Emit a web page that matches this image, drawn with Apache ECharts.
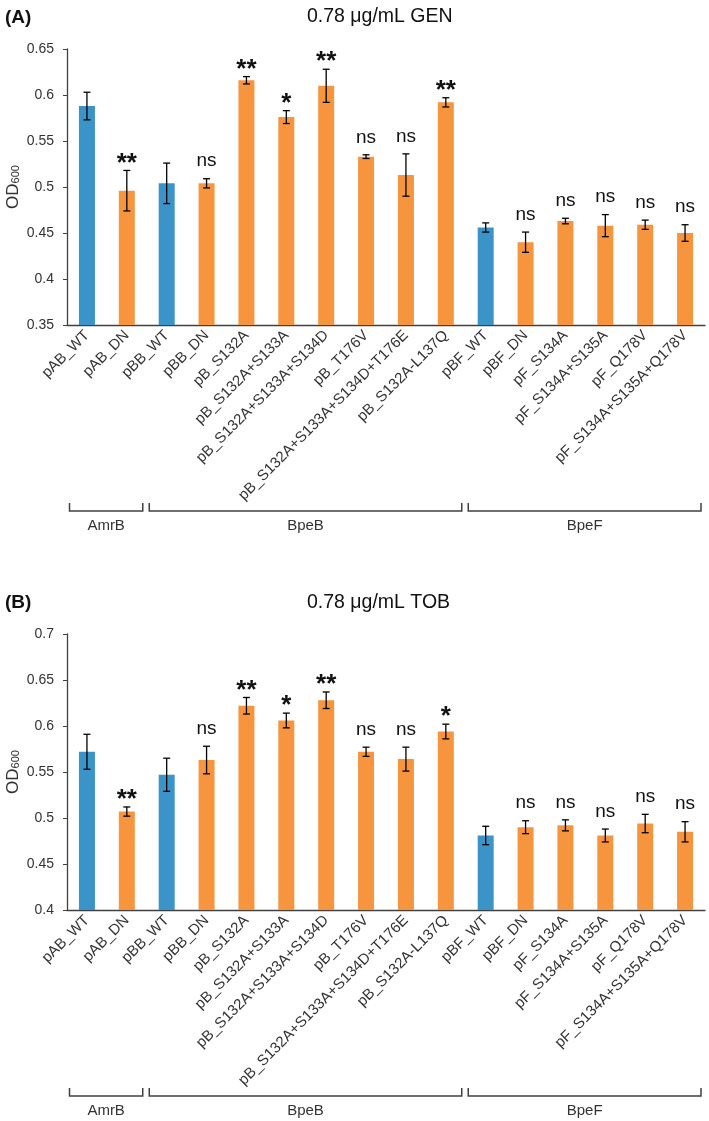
<!DOCTYPE html>
<html lang="en">
<head>
  <meta charset="UTF-8">
  <title>OD600 GEN / TOB</title>
  <script src="https://cdn.jsdelivr.net/npm/echarts@6/dist/echarts.min.js"></script>
  <style>
    html, body { margin: 0; padding: 0; background: #fff; }
  </style>
</head>
<body>
<div id="main" style="width:709px;height:1121px;"></div>
<script>
  // strains on the x axis
  var categories = ['pAB_WT', 'pAB_DN', 'pBB_WT', 'pBB_DN', 'pB_S132A', 'pB_S132A+S133A',
    'pB_S132A+S133A+S134D', 'pB_T176V', 'pB_S132A+S133A+S134D+T176E', 'pB_S132A-L137Q',
    'pBF_WT', 'pBF_DN', 'pF_S134A', 'pF_S134A+S135A', 'pF_Q178V', 'pF_S134A+S135A+Q178V'];

  // (A) gentamicin
  var meanA = [0.588, 0.496, 0.504, 0.504, 0.616, 0.576, 0.610, 0.533, 0.513, 0.592, 0.456, 0.440, 0.463, 0.458, 0.459, 0.450];
  var errA  = [0.015, 0.022, 0.022, 0.005, 0.004, 0.007, 0.018, 0.002, 0.023, 0.005, 0.005, 0.011, 0.003, 0.012, 0.005, 0.009];
  var sigA  = ['', '**', '', 'ns', '**', '*', '**', 'ns', 'ns', '**', '', 'ns', 'ns', 'ns', 'ns', 'ns'];

  // (B) tobramycin
  var meanB = [0.572, 0.507, 0.547, 0.563, 0.622, 0.606, 0.628, 0.572, 0.564, 0.594, 0.481, 0.490, 0.492, 0.481, 0.494, 0.485];
  var errB  = [0.019, 0.005, 0.018, 0.015, 0.009, 0.008, 0.009, 0.005, 0.013, 0.008, 0.010, 0.007, 0.006, 0.007, 0.010, 0.011];
  var sigB  = ['', '**', '', 'ns', '**', '*', '**', 'ns', 'ns', '*', '', 'ns', 'ns', 'ns', 'ns', 'ns'];

  // pump groups under the labels
  var groupNames = ['AmrB', 'BpeB', 'BpeF'];
  var groupStart = [0, 2, 10];
  var groupEnd   = [1, 9, 15];

  var FONT = 'Arial, "Liberation Sans", Helvetica, sans-serif';
  var BLUE = '#3A94C8';
  var ORANGE = '#F7953F';
  var INK = '#333';

  var chart = echarts.init(document.getElementById('main'));

  function barData(means) {
    return means.map(function (v, i) {
      return { value: v, itemStyle: { color: /_WT$/.test(categories[i]) ? BLUE : ORANGE } };
    });
  }

  function errData(means, errs) {
    return means.map(function (v, i) { return [i, v, errs[i]]; });
  }

  // error bar + significance mark
  function makeRender(sig) {
    return function (params, api) {
      var i = api.value(0), v = api.value(1), e = api.value(2);
      var hi = api.coord([i, v + e]);
      var lo = api.coord([i, v - e]);
      var cap = 3.5;
      var s = sig[i];
      var kids = [
        { type: 'line', shape: { x1: hi[0], y1: hi[1], x2: lo[0], y2: lo[1] }, style: { stroke: '#000', lineWidth: 1.3 } },
        { type: 'line', shape: { x1: hi[0] - cap, y1: hi[1], x2: hi[0] + cap, y2: hi[1] }, style: { stroke: '#000', lineWidth: 1.3 } },
        { type: 'line', shape: { x1: lo[0] - cap, y1: lo[1], x2: lo[0] + cap, y2: lo[1] }, style: { stroke: '#000', lineWidth: 1.3 } }
      ];
      if (s) {
        var star = s.indexOf('*') >= 0;
        kids.push({
          type: 'text',
          style: {
            text: s,
            x: hi[0],
            y: star ? hi[1] + 6 : hi[1] - 8,
            textAlign: 'center',
            textVerticalAlign: 'bottom',
            fill: '#111',
            font: star ? 'bold 26px ' + FONT : '19px ' + FONT
          }
        });
      }
      return { type: 'group', children: kids };
    };
  }

  function yAxis(idx, min, max) {
    return {
      type: 'value', gridIndex: idx, min: min, max: max, interval: 0.05,
      axisLine: { show: true, lineStyle: { color: '#404040', width: 1.3 } },
      axisTick: { show: true, inside: false, length: 4, lineStyle: { color: '#404040' } },
      axisLabel: { fontSize: 14, fontFamily: FONT, color: INK, margin: 13 },
      splitLine: { show: false }
    };
  }

  function xAxis(idx) {
    return {
      type: 'category', gridIndex: idx, data: categories,
      axisLine: { lineStyle: { color: '#404040', width: 1.3 } },
      axisTick: { show: false },
      axisLabel: { interval: 0, rotate: 45, fontSize: 15, fontFamily: FONT, color: INK, margin: 8 }
    };
  }

  var option = {
    animation: false,
    backgroundColor: '#fff',
    title: [
      { text: '0.78 μg/mL GEN', left: 302, top: 2, textStyle: { fontSize: 19.5, fontWeight: 'normal', fontFamily: FONT, color: '#111' } },
      { text: '0.78 μg/mL TOB', left: 302, top: 588, textStyle: { fontSize: 19.5, fontWeight: 'normal', fontFamily: FONT, color: '#111' } },
      { text: '(A)', left: 0, top: 3, textStyle: { fontSize: 19, fontWeight: 'bold', fontFamily: FONT, color: '#111' } },
      { text: '(B)', left: 0, top: 588, textStyle: { fontSize: 19, fontWeight: 'bold', fontFamily: FONT, color: '#111' } }
    ],
    grid: [
      { left: 67, right: 4, top: 49, height: 276, containLabel: false, outerBoundsMode: 'none' },
      { left: 67, right: 4, top: 634, height: 276, containLabel: false, outerBoundsMode: 'none' }
    ],
    xAxis: [xAxis(0), xAxis(1)],
    yAxis: [yAxis(0, 0.35, 0.65), yAxis(1, 0.4, 0.7)],
    series: [
      { type: 'bar', xAxisIndex: 0, yAxisIndex: 0, barWidth: 16, data: barData(meanA) },
      { type: 'bar', xAxisIndex: 1, yAxisIndex: 1, barWidth: 16, data: barData(meanB) },
      { type: 'custom', xAxisIndex: 0, yAxisIndex: 0, renderItem: makeRender(sigA), data: errData(meanA, errA), encode: { x: 0, y: 1 }, z: 5, clip: false },
      { type: 'custom', xAxisIndex: 1, yAxisIndex: 1, renderItem: makeRender(sigB), data: errData(meanB, errB), encode: { x: 0, y: 1 }, z: 5, clip: false }
    ]
  };

  chart.setOption(option);

  // y-axis titles and group brackets, placed with the axes
  var graphics = [];
  [[0, 0.35, 0.65], [1, 0.4, 0.7]].forEach(function (p) {
    var gi = p[0];
    var axisY = chart.convertToPixel({ yAxisIndex: gi }, p[1]);
    var midY = (axisY + chart.convertToPixel({ yAxisIndex: gi }, p[2])) / 2;
    graphics.push({
      type: 'text', x: 13, y: midY, rotation: Math.PI / 2,
      style: {
        text: '{a|OD}{b|600}',
        align: 'center', verticalAlign: 'middle',
        rich: {
          a: { fontSize: 17, fontFamily: FONT, fill: INK },
          b: { fontSize: 11, fontFamily: FONT, fill: INK, verticalAlign: 'bottom', padding: [6, 0, 0, 0] }
        }
      }
    });
    var by = axisY + 186;
    var step = chart.convertToPixel({ xAxisIndex: gi }, 1) - chart.convertToPixel({ xAxisIndex: gi }, 0);
    groupNames.forEach(function (name, k) {
      var x1 = chart.convertToPixel({ xAxisIndex: gi }, groupStart[k]) - step / 2 + 2.5;
      var x2 = chart.convertToPixel({ xAxisIndex: gi }, groupEnd[k]) + step / 2 - 4;
      graphics.push({
        type: 'polyline',
        shape: { points: [[x1, by - 8], [x1, by], [x2, by], [x2, by - 8]] },
        style: { stroke: '#404040', lineWidth: 1.5, fill: null }
      });
      graphics.push({
        type: 'text',
        style: { text: name, x: (x1 + x2) / 2, y: by + 15, textAlign: 'center', textVerticalAlign: 'middle', font: '15px ' + FONT, fill: INK }
      });
    });
  });
  chart.setOption({ graphic: graphics });
</script>
</body>
</html>
